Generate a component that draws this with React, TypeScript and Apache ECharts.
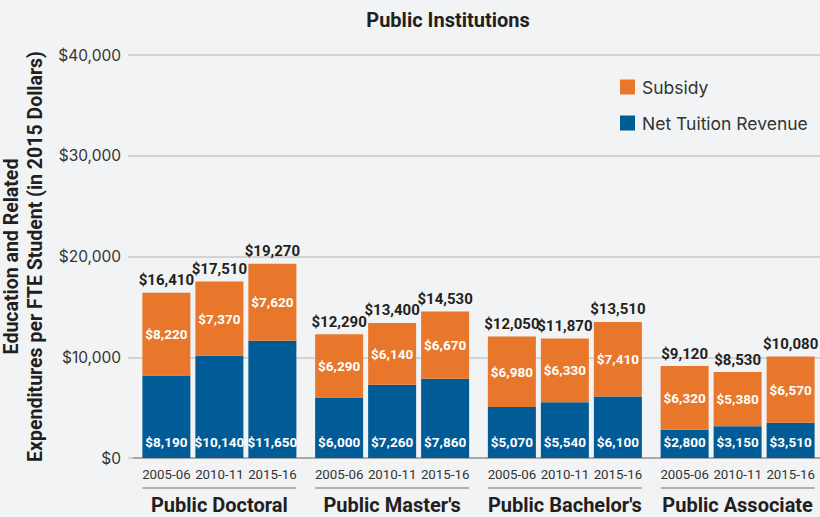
import React, { useEffect, useRef } from "react";
import * as echarts from "echarts";

const groups = ["Public Doctoral", "Public Master's", "Public Bachelor's", "Public Associate"];
const years = ["2005-06", "2010-11", "2015-16"];
// Net tuition revenue per year, across groups
const tuition2005 = [8190, 6000, 5070, 2800];
const tuition2010 = [10140, 7260, 5540, 3150];
const tuition2015 = [11650, 7860, 6100, 3510];
// Subsidy per year, across groups
const subsidy2005 = [8220, 6290, 6980, 6320];
const subsidy2010 = [7370, 6140, 6330, 5380];
const subsidy2015 = [7620, 6670, 7410, 6570];
// Totals per year, across groups
const total2005 = [16410, 12290, 12050, 9120];
const total2010 = [17510, 13400, 11870, 8530];
const total2015 = [19270, 14530, 13510, 10080];
const yTicks = [0, 10000, 20000, 30000, 40000];

const tuition = [tuition2005, tuition2010, tuition2015];
const subsidy = [subsidy2005, subsidy2010, subsidy2015];
const totals = [total2005, total2010, total2015];

const ORANGE = "#e8772b";
const BLUE = "#005b96";
const DARK = "#231f20";
const BAR_W = 48;
const BAR_GAP_PX = 5;

const money = (v: number) => "$" + v.toLocaleString("en-US");

export default function App() {
  const ref = useRef<HTMLDivElement>(null);
  useEffect(() => {
    document.body.style.margin = "0";
    const chart = echarts.init(ref.current!, null, { renderer: "svg" });
    const barGap = (BAR_GAP_PX / BAR_W) * 100 + "%";
    const series: any[] = [];
    years.forEach((yr, yi) => {
      const stack = "s" + yi;
      series.push({
        name: "year-" + yr,
        type: "bar",
        stack,
        barWidth: BAR_W,
        barGap,
        data: groups.map(() => 0),
        itemStyle: { color: "rgba(0,0,0,0)" },
        label: {
          show: true,
          position: "bottom",
          distance: 10,
          formatter: () => yr,
          color: "#333",
          fontFamily: "Roboto",
          fontSize: 13.3,
        },
        silent: true,
      });
      series.push({
        name: "Net Tuition Revenue",
        type: "bar",
        stack,
        barWidth: BAR_W,
        barGap,
        data: tuition[yi],
        itemStyle: { color: BLUE },
        label: {
          show: true,
          position: "insideBottom",
          distance: 9,
          formatter: (p: any) => money(p.value),
          color: "#fff",
          fontFamily: "Roboto",
          fontWeight: "bold",
          fontSize: 13.5,
        },
      });
      series.push({
        name: "Subsidy",
        type: "bar",
        stack,
        barWidth: BAR_W,
        barGap,
        data: subsidy[yi],
        itemStyle: { color: ORANGE },
        label: {
          show: true,
          position: "inside",
          formatter: (p: any) => money(p.value),
          color: "#fff",
          fontFamily: "Roboto",
          fontWeight: "bold",
          fontSize: 13.5,
        },
      });
      series.push({
        name: "total-" + yr,
        type: "bar",
        stack,
        barWidth: BAR_W,
        barGap,
        data: groups.map(() => 0),
        itemStyle: { color: "rgba(0,0,0,0)" },
        label: {
          show: true,
          position: "top",
          distance: 5,
          formatter: (p: any) => money(totals[yi][p.dataIndex]),
          color: DARK,
          fontFamily: "Roboto",
          fontWeight: "bold",
          fontSize: 15,
        },
        silent: true,
      });
    });
    series.push({
      name: "separators",
      type: "custom",
      silent: true,
      clip: false,
      data: groups.map((_, i) => [i, 0]),
      renderItem: (params: any, api: any) => {
        const c = api.coord([api.value(0), 0]);
        const half = 1.5 * BAR_W + BAR_GAP_PX;
        return {
          type: "line",
          shape: { x1: c[0] - half, y1: c[1] + 30, x2: c[0] + half, y2: c[1] + 30 },
          style: { stroke: "#9b9b9b", lineWidth: 1.5 },
        };
      },
    });

    chart.setOption({
      animation: false,
      backgroundColor: "#f2f3f5",
      graphic: [
        {
          type: "text",
          x: 448,
          y: 20,
          style: {
            text: "Public Institutions",
            fill: DARK,
            font: "bold 20px Roboto",
            textAlign: "center",
            textVerticalAlign: "middle",
          },
        },
      ],
      legend: {
        data: ["Subsidy", "Net Tuition Revenue"],
        orient: "vertical",
        left: 615,
        top: 73,
        itemWidth: 15,
        itemHeight: 15,
        itemGap: 18,
        icon: "rect",
        selectedMode: false,
        textStyle: { fontFamily: "Inter", fontSize: 17.5, color: "#333", padding: [0, 0, 0, 2] },
      },
      grid: {
        left: 133,
        right: -4,
        top: 55,
        bottom: 59,
        containLabel: false,
        outerBoundsMode: "none",
      },
      xAxis: {
        type: "category",
        data: groups,
        axisLine: { show: true, lineStyle: { color: "#9b9b9b", width: 1.5 } },
        axisTick: { show: false },
        axisLabel: {
          interval: 0,
          margin: 37,
          color: DARK,
          fontFamily: "Roboto",
          fontWeight: "bold",
          fontSize: 20,
        },
      },
      yAxis: {
        type: "value",
        min: yTicks[0],
        max: yTicks[yTicks.length - 1],
        interval: yTicks[1] - yTicks[0],
        name: "Education and Related\nExpenditures per FTE Student (in 2015 Dollars)",
        nameLocation: "middle",
        nameGap: 79,
        nameTextStyle: {
          color: DARK,
          fontFamily: "Roboto",
          fontWeight: "bold",
          fontSize: 19.5,
          lineHeight: 24,
        },
        axisLine: { show: false },
        axisTick: { show: true, length: 5, lineStyle: { color: "#c8c8c8", width: 1.5 } },
        splitLine: { lineStyle: { color: "#c8c8c8", width: 1.5 } },
        axisLabel: {
          margin: 12,
          color: "#333",
          fontFamily: "Inter",
          fontSize: 15.5,
          formatter: (v: number) => money(v),
        },
      },
      series,
    });
    return () => chart.dispose();
  }, []);
  return <div ref={ref} style={{ width: 820, height: 517 }} />;
}
